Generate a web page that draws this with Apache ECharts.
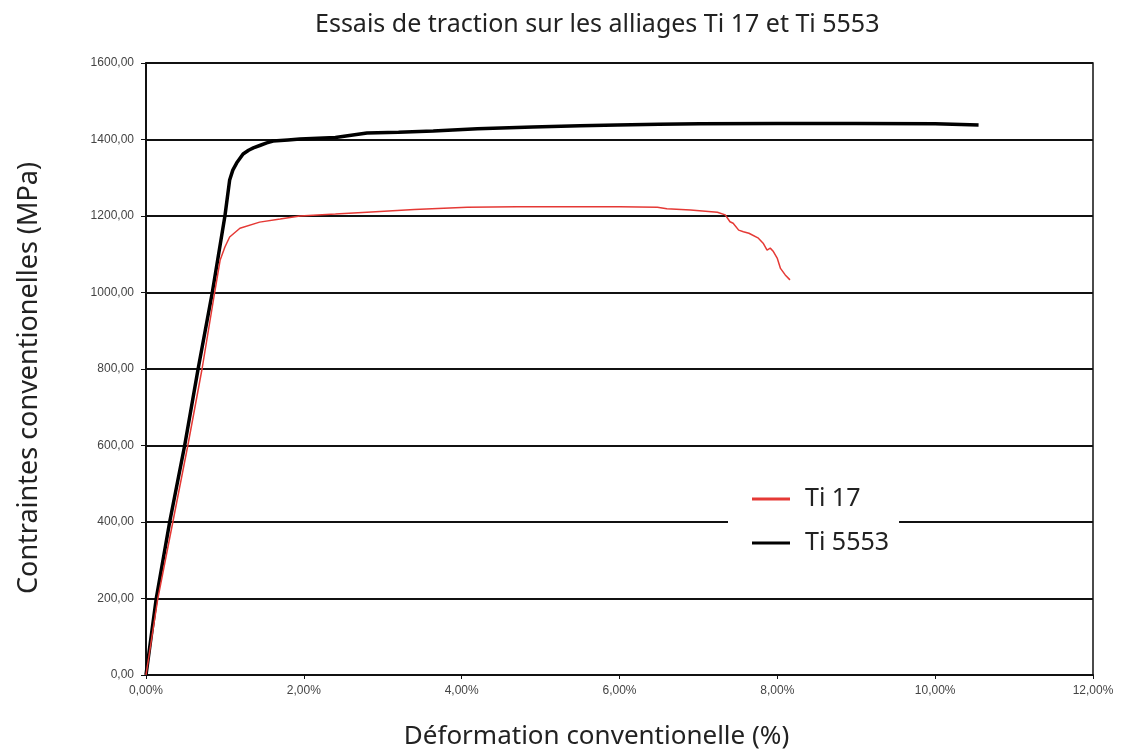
<!DOCTYPE html>
<html>
<head>
<meta charset="utf-8">
<script src="https://cdn.jsdelivr.net/npm/echarts@6/dist/echarts.min.js"></script>
<style>html,body{margin:0;padding:0;background:#fff;}#c{width:1128px;height:753px;}</style>
</head>
<body>
<div id="c"></div>
<script>
const titleText = 'Essais de traction sur les alliages Ti 17 et Ti 5553';
const xName = 'Déformation conventionelle (%)';
const yName = 'Contraintes conventionelles (MPa)';
const seriesNames = ['Ti 17', 'Ti 5553'];

// Ti 17 (strain in %, stress in MPa)
const ti17Strain = [0, 0.15, 0.34, 0.53, 0.71, 0.87, 0.94, 1.00, 1.06, 1.19, 1.44, 1.70, 1.95, 2.4, 2.8, 3.4, 4.07, 4.7, 5.34, 6.0, 6.48, 6.6, 6.9, 7.24, 7.34, 7.40, 7.44, 7.51, 7.57, 7.64, 7.76, 7.82, 7.87, 7.91, 7.95, 8.00, 8.04, 8.10, 8.16];
const ti17Stress = [0, 200, 400, 600, 800, 1000, 1085, 1119, 1145, 1168, 1184, 1192, 1200, 1205, 1210, 1217, 1223, 1224, 1224, 1224, 1223, 1219, 1216, 1210, 1203, 1185, 1181, 1163, 1159, 1155, 1142, 1129, 1111, 1116, 1107, 1089, 1063, 1046, 1033];

// Ti 5553
const ti5553Strain = [0, 0.13, 0.30, 0.49, 0.66, 0.84, 1.00, 1.06, 1.10, 1.15, 1.23, 1.30, 1.36, 1.45, 1.53, 1.61, 1.80, 1.95, 2.4, 2.8, 3.2, 3.64, 4.2, 4.9, 5.5, 5.97, 6.5, 7.02, 8.0, 9.0, 10.0, 10.55];
const ti5553Stress = [0, 200, 400, 600, 800, 1000, 1200, 1294, 1320, 1339, 1362, 1372, 1378, 1385, 1391, 1396, 1399, 1401, 1405, 1417, 1419, 1422, 1428, 1433, 1436, 1438, 1440, 1441, 1442, 1442, 1441, 1438];

const xTicks = {min: 0, max: 12, interval: 2};
const yTicks = {min: 0, max: 1600, interval: 200};

const pairs = (xs, ys) => xs.map((x, i) => [x, ys[i]]);
const fmtNum = v => v.toFixed(2).replace('.', ',');

const chart = echarts.init(document.getElementById('c'));
chart.setOption({
  backgroundColor: '#fff',
  animation: false,
  title: {
    text: titleText, left: 310, top: 7,
    textStyle: {fontFamily: 'Noto Sans', fontSize: 25, fontWeight: 'normal', color: '#222'}
  },
  legend: {
    orient: 'vertical', left: 728, top: 477,
    backgroundColor: '#fff', padding: [8, 10, 8, 24],
    itemWidth: 38, itemHeight: 3, itemGap: 16,
    textStyle: {fontFamily: 'Noto Sans', fontSize: 25, color: '#222', lineHeight: 28, padding: [0, 0, 0, 10]},
    data: [
      {name: seriesNames[0], icon: 'rect', itemStyle: {color: '#e53935'}},
      {name: seriesNames[1], icon: 'rect', itemStyle: {color: '#000'}}
    ]
  },
  grid: {left: 146, right: 35, top: 63, bottom: 78, containLabel: false, outerBoundsMode: 'none',
         show: true, borderColor: '#111', borderWidth: 1.5, backgroundColor: 'transparent'},
  xAxis: {
    type: 'value', min: xTicks.min, max: xTicks.max, interval: xTicks.interval,
    name: xName, nameLocation: 'middle', nameGap: 49,
    nameTextStyle: {fontFamily: 'Noto Sans', fontSize: 26, color: '#222', padding: [0, 46, 0, 0]},
    axisLine: {lineStyle: {color: '#111', width: 2}},
    axisTick: {show: true, length: 4, lineStyle: {color: '#111'}},
    splitLine: {show: false},
    axisLabel: {formatter: v => fmtNum(v) + '%', fontFamily: 'Liberation Sans', fontSize: 12, color: '#444', margin: 10}
  },
  yAxis: {
    type: 'value', min: yTicks.min, max: yTicks.max, interval: yTicks.interval,
    name: yName, nameLocation: 'middle', nameGap: 103,
    nameTextStyle: {fontFamily: 'Noto Sans', fontSize: 27, color: '#222', padding: [0, 18, 0, 0]},
    axisLine: {show: true, lineStyle: {color: '#111', width: 2}},
    axisTick: {show: true, length: 5, lineStyle: {color: '#111'}},
    splitLine: {show: true, lineStyle: {color: '#111', width: 2}},
    axisLabel: {formatter: v => fmtNum(v), fontFamily: 'Liberation Sans', fontSize: 12, color: '#444', margin: 12}
  },
  series: [
    {name: seriesNames[0], type: 'line', symbol: 'none', smooth: false,
     data: pairs(ti17Strain, ti17Stress), lineStyle: {color: '#e53935', width: 1.5}, itemStyle: {color: '#e53935'}, z: 3},
    {name: seriesNames[1], type: 'line', symbol: 'none', smooth: false,
     data: pairs(ti5553Strain, ti5553Stress), lineStyle: {color: '#000', width: 3.5}, itemStyle: {color: '#000'}, z: 2}
  ]
});
</script>
</body>
</html>
